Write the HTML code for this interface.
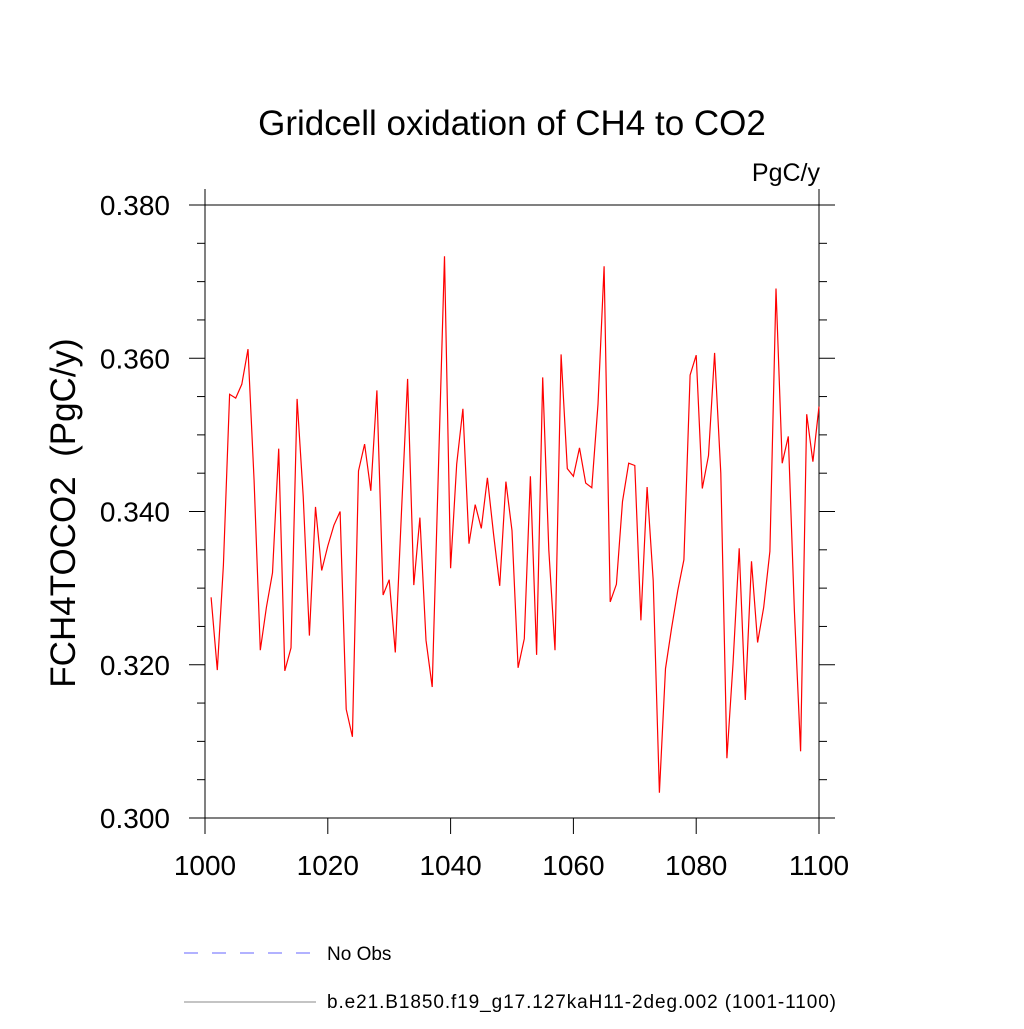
<!DOCTYPE html>
<html><head><meta charset="utf-8"><style>
html,body{margin:0;padding:0;background:#fff;}
svg text{font-family:"Liberation Sans",Arial,sans-serif;}
</style></head><body>
<svg id="chart" width="1024" height="1024" xmlns="http://www.w3.org/2000/svg">
<text x="512" y="135" font-size="35" text-anchor="middle">Gridcell oxidation of CH4 to CO2</text>
<text x="820" y="181" font-size="25" text-anchor="end">PgC/y</text>
<text transform="translate(75,513) rotate(-90)" font-size="35" text-anchor="middle" xml:space="preserve">FCH4TOCO2  (PgC/y)</text>
<g id="axes"></g>
<g id="series"></g>
<line x1="184" y1="953" x2="316" y2="953" stroke="#6666ff" stroke-width="1" stroke-dasharray="14,14"/>
<text x="327" y="960" font-size="19">No Obs</text>
<line x1="184" y1="1002" x2="316" y2="1002" stroke="#888" stroke-width="1"/>
<text x="327" y="1008" font-size="19" textLength="509">b.e21.B1850.f19_g17.127kaH11-2deg.002 (1001-1100)</text>
</svg>
<script>
const years=[];for(let y=1001;y<=1100;y++)years.push(y);
const values=[.3288,.3193,.333,.3553,.3548,.3566,.3612,.344,.3219,.3275,.332,.3482,.3192,.3222,.3547,.342,.3238,.3406,.3323,.3355,.3382,.340,.3142,.3106,.3453,.3488,.3427,.3558,.3291,.3311,.3216,.340,.3573,.3304,.3392,.3232,.3171,.345,.3733,.3326,.3462,.3534,.3358,.3409,.3378,.3444,.337,.3303,.3439,.3375,.3196,.3234,.3446,.3213,.3575,.335,.3219,.3605,.3456,.3446,.3483,.3437,.3431,.354,.372,.3282,.3305,.3413,.3463,.346,.3258,.3432,.331,.3033,.3195,.3248,.3297,.3337,.3578,.3604,.343,.3473,.3607,.345,.3078,.3201,.3352,.3154,.3335,.3229,.3275,.3348,.3691,.3463,.3498,.327,.3087,.3527,.3465,.3537];
const xTicks=[1000,1020,1040,1060,1080,1100];
const yTicks=[0.300,0.320,0.340,0.360,0.380];
const yTickLabels=["0.300","0.320","0.340","0.360","0.380"];
const X=v=>205+(v-1000)*(819-205)/100;
const Y=v=>818-(v-0.300)*(818-205)/0.08;
const NS="http://www.w3.org/2000/svg";
const axes=document.getElementById('axes');
function ln(x1,y1,x2,y2,name){const l=document.createElementNS(NS,'line');l.setAttribute('x1',x1);l.setAttribute('y1',y1);l.setAttribute('x2',x2);l.setAttribute('y2',y2);l.setAttribute('stroke','#000');l.setAttribute('stroke-width','1');


axes.appendChild(l);}
ln(189,205,834,205,'frame-top');ln(189,818,834,818,'frame-bottom');
ln(205,189,205,834,'frame-left');ln(819,189,819,834,'frame-right');
xTicks.forEach((t,i)=>{ln(X(t),818,X(t),834,'x-tick');
const tx=document.createElementNS(NS,'text');tx.setAttribute('x',X(t));tx.setAttribute('y',875);tx.setAttribute('font-size','28');tx.setAttribute('text-anchor','middle');tx.textContent=t;


axes.appendChild(tx);});
for(let v=0.300;v<=0.3801;v+=0.005){const major=Math.abs((v*1000)%20)<0.01||Math.abs((v*1000)%20-20)<0.01;const len=major?16:8;ln(205-len,Y(v),205,Y(v),'y-tick');ln(819,Y(v),819+len,Y(v),'y-tick-right');}
yTicks.forEach((t,i)=>{const tx=document.createElementNS(NS,'text');tx.setAttribute('x',170);tx.setAttribute('y',Y(t)+10);tx.setAttribute('font-size','28');tx.setAttribute('text-anchor','end');tx.textContent=yTickLabels[i];


axes.appendChild(tx);});
const p=document.createElementNS(NS,'polyline');
p.setAttribute('points',years.map((y,i)=>X(y).toFixed(1)+','+Y(values[i]).toFixed(1)).join(' '));
p.setAttribute('fill','none');p.setAttribute('stroke','#ff0000');p.setAttribute('stroke-width','1.2');


document.getElementById('series').appendChild(p);
</script>
</body></html>
